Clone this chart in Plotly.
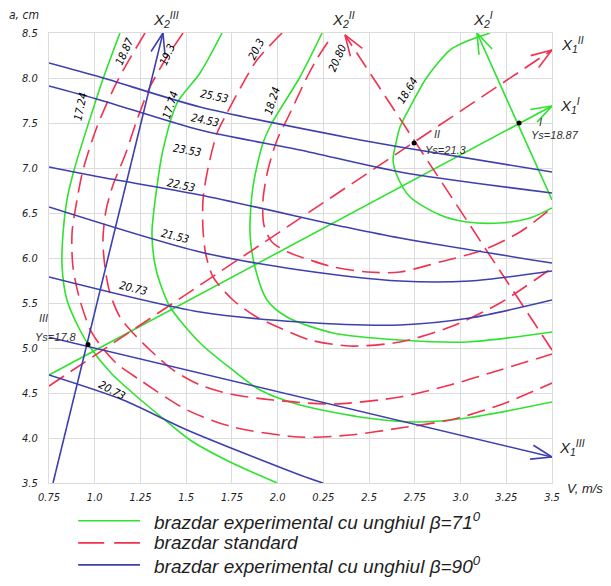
import math
import plotly.graph_objects as go

# ---- isolines (V in m/s, a in cm) ----

# brazdar experimental, beta = 71 (green)
g1724_v = [1.138, 1.045, 1.007, 0.887, 0.848, 0.827, 0.821, 0.848, 0.919, 0.974, 1.09, 1.22, 1.384, 1.521, 1.74, 1.997]
g1724_a = [8.5, 7.989, 7.756, 6.978, 6.644, 6.278, 5.922, 5.533, 5.2, 5.011, 4.72, 4.478, 4.2, 3.978, 3.733, 3.5]
g1774_v = [1.696, 1.576, 1.45, 1.373, 1.34, 1.313, 1.33, 1.357, 1.412, 1.576, 1.74, 1.904, 2.122, 2.489, 2.762, 3.035, 3.5]
g1774_a = [8.5, 8.056, 7.722, 7.2, 6.789, 6.278, 5.922, 5.722, 5.456, 5.056, 4.778, 4.533, 4.367, 4.222, 4.178, 4.222, 4.4]
g1824_v = [2.243, 2.122, 1.969, 1.92, 1.865, 1.849, 1.876, 1.942, 2.051, 2.303, 2.669, 3.035, 3.5]
g1824_a = [8.5, 8.011, 7.5, 7.278, 6.789, 6.278, 5.9, 5.533, 5.344, 5.167, 5.089, 5.067, 5.178]
g1864_v = [3.161, 3.024, 2.942, 2.817, 2.724, 2.669, 2.647, 2.631, 2.658, 2.724, 2.888, 3.035, 3.216, 3.38, 3.5]
g1864_a = [8.5, 8.4, 8.311, 8.011, 7.678, 7.456, 7.278, 7.089, 6.889, 6.678, 6.478, 6.4, 6.389, 6.444, 6.556]
g_x1_v = [0.75, 3.5]
g_x1_a = [4.7, 7.689]
g_x2_v = [3.5, 3.09]
g_x2_a = [6.644, 8.5]

# brazdar standard (red, dashed)
r1887_v = [1.275, 1.127, 1.012, 0.936, 0.903, 0.876, 0.881, 0.919, 0.985, 1.111, 1.248, 1.505, 1.756, 2.122, 2.396, 2.669, 2.942, 3.216, 3.5]
r1887_a = [8.5, 7.978, 7.456, 6.978, 6.644, 6.278, 5.9, 5.533, 5.167, 4.844, 4.644, 4.311, 4.122, 4.011, 4.033, 4.111, 4.2, 4.367, 4.611]
r193_v = [1.483, 1.395, 1.302, 1.231, 1.166, 1.1, 1.062, 1.045, 1.056, 1.083, 1.138, 1.209, 1.302, 1.428, 1.576, 1.74, 1.975, 2.303, 2.669, 2.942, 3.216, 3.5]
r193_a = [8.5, 8.233, 7.9, 7.533, 7.144, 6.811, 6.533, 6.2, 5.9, 5.611, 5.344, 5.167, 4.978, 4.756, 4.589, 4.489, 4.422, 4.378, 4.456, 4.589, 4.756, 4.933]
r203_v = [2.024, 1.887, 1.811, 1.723, 1.669, 1.614, 1.592, 1.592, 1.608, 1.647, 1.756, 1.876, 2.013, 2.177, 2.396, 2.669, 2.942, 3.216, 3.5]
r203_a = [8.5, 8.2, 7.944, 7.611, 7.389, 6.944, 6.644, 6.311, 6.033, 5.789, 5.533, 5.356, 5.222, 5.089, 5.022, 5.067, 5.233, 5.5, 5.889]
r2080_v = [2.275, 2.221, 2.161, 2.068, 1.997, 1.947, 1.92, 1.925, 1.969, 2.068, 2.177, 2.303, 2.489, 2.669, 2.888, 3.123, 3.325, 3.5]
r2080_a = [8.4, 8.233, 8.011, 7.611, 7.311, 6.978, 6.644, 6.367, 6.178, 6.056, 5.978, 5.9, 5.844, 5.844, 5.956, 6.089, 6.289, 6.556]
r_x1_v = [0.75, 3.5]
r_x1_a = [4.578, 8.311]
r_x2_v = [3.5, 2.368]
r_x2_a = [4.978, 8.478]

# brazdar experimental, beta = 90 (blue)
b2553_v = [0.75, 1.029, 1.576, 2.396, 2.669, 3.5]
b2553_a = [8.167, 8.011, 7.678, 7.333, 7.233, 6.956]
b2453_v = [0.75, 1.029, 1.576, 2.122, 2.669, 3.5]
b2453_a = [7.911, 7.756, 7.422, 7.2, 6.956, 6.722]
b2253_v = [0.75, 1.029, 1.576, 2.396, 2.669, 3.5]
b2253_a = [7.011, 6.9, 6.7, 6.333, 6.222, 5.944]
b2153_v = [0.75, 1.576, 2.122, 2.669, 3.051, 3.5]
b2153_a = [6.567, 6.067, 5.867, 5.744, 5.744, 5.856]
b2073_v = [0.75, 1.576, 2.122, 2.669, 3.051, 3.5]
b2073_a = [5.789, 5.4, 5.289, 5.256, 5.333, 5.533]
b2073low_v = [0.75, 1.155, 1.505, 2.122, 2.248]
b2073low_a = [4.7, 4.422, 4.089, 3.589, 3.5]
b_x1_v = [0.75, 3.5]
b_x1_a = [5.12, 3.789]
b_x2_v = [0.772, 1.373]
b_x2_a = [3.5, 8.5]

# optimum points
opt_v = [3.32, 2.746, 0.963]
opt_a = [7.5, 7.278, 5.04]
opt_name = ["I", "II", "III"]
opt_ys = ["Ys=18.87", "Ys=21.3", "Ys=17.8"]

# isoline values
green_vals = ["17.24", "17.74", "18.24", "18.64"]
red_vals = ["18.87", "19.3", "20.3", "20.80"]
blue_vals = ["25.53", "24.53", "23.53", "22.53", "21.53", "20.73", "20.73"]

x_ticks = [0.75, 1.0, 1.25, 1.5, 1.75, 2.0, 2.25, 2.5, 2.75, 3.0, 3.25, 3.5]
x_ticktext = ["0.75", "1.0", "1.25", "1.5", "1.75", "2.0", "0.25", "2.5", "2.75", "3.0", "3.25", "3.5"]
y_ticks = [3.5, 4.0, 4.5, 5.0, 5.5, 6.0, 6.5, 7.0, 7.5, 8.0, 8.5]

GREEN = "#2fe22f"
RED = "#f03250"
BLUE = "#3d40ad"
TXT = "#1e1e1e"
DASH = "18px,8px"

# pixels per unit, only to shape the arrow heads
PX_V = 182.9
PX_A = 90.0


def arrow_head(v, a, length=22, spread=19):
    dx = (v[-1] - v[0]) * PX_V
    dy = (a[-1] - a[0]) * PX_A
    ang = math.atan2(dy, dx) + math.pi
    xs, ys = [], []
    for s in (-1, 1):
        t = ang + s * math.radians(spread)
        xs.append(v[-1] + length * math.cos(t) / PX_V)
        ys.append(a[-1] + length * math.sin(t) / PX_A)
    return [xs[0], v[-1], xs[1]], [ys[0], a[-1], ys[1]]


fig = go.Figure()

curves = [
    (g1724_v, g1724_a, GREEN, "solid"), (g1774_v, g1774_a, GREEN, "solid"),
    (g1824_v, g1824_a, GREEN, "solid"), (g1864_v, g1864_a, GREEN, "solid"),
    (g_x1_v, g_x1_a, GREEN, "solid"), (g_x2_v, g_x2_a, GREEN, "solid"),
    (r1887_v, r1887_a, RED, DASH), (r193_v, r193_a, RED, DASH),
    (r203_v, r203_a, RED, DASH), (r2080_v, r2080_a, RED, DASH),
    (r_x1_v, r_x1_a, RED, DASH), (r_x2_v, r_x2_a, RED, DASH),
    (b2553_v, b2553_a, BLUE, "solid"), (b2453_v, b2453_a, BLUE, "solid"),
    (b2253_v, b2253_a, BLUE, "solid"), (b2153_v, b2153_a, BLUE, "solid"),
    (b2073_v, b2073_a, BLUE, "solid"), (b2073low_v, b2073low_a, BLUE, "solid"),
    (b_x1_v, b_x1_a, BLUE, "solid"), (b_x2_v, b_x2_a, BLUE, "solid"),
]
for v, a, col, dash in curves:
    fig.add_trace(go.Scatter(
        x=v, y=a, mode="lines", showlegend=False, hoverinfo="skip",
        line=dict(color=col, width=1.6, dash=dash, shape="spline", smoothing=0.8)
    ))

# arrow heads on the axes of the response surfaces
for v, a, col in [(g_x1_v, g_x1_a, GREEN), (g_x2_v, g_x2_a, GREEN),
                  (r_x1_v, r_x1_a, RED), (r_x2_v, r_x2_a, RED),
                  (b_x1_v, b_x1_a, BLUE), (b_x2_v, b_x2_a, BLUE)]:
    hx, hy = arrow_head(v, a)
    fig.add_trace(go.Scatter(x=hx, y=hy, mode="lines", showlegend=False,
                             hoverinfo="skip", cliponaxis=False,
                             line=dict(color=col, width=1.6)))

fig.add_trace(go.Scatter(x=opt_v, y=opt_a, mode="markers", showlegend=False,
                         hoverinfo="skip", marker=dict(color="black", size=5)))

label_font = dict(family="Liberation Sans Narrow, DejaVu Sans Condensed, sans-serif",
                  size=11, color="black", style="italic")
ann = []

# isoline labels: value, position, angle
green_pos = [(0.925, 7.68, -78), (1.412, 7.70, -72), (1.969, 7.744, -72), (2.713, 7.856, -58)]
red_pos = [(1.166, 8.289, -66), (1.40, 8.256, -66), (1.882, 8.322, -62), (2.325, 8.222, -66)]
blue_pos = [(1.652, 7.789, 12), (1.603, 7.533, 12), (1.505, 7.20, 10), (1.472, 6.811, 12),
            (1.439, 6.244, 14), (1.209, 5.656, 14), (1.094, 4.533, 28)]
for vals, pos in [(green_vals, green_pos), (red_vals, red_pos), (blue_vals, blue_pos)]:
    for t, (x, y, ang) in zip(vals, pos):
        ann.append(dict(x=x, y=y, text=t, showarrow=False, textangle=ang, font=label_font))


def paper_text(txt, x, y, font, xanchor="center"):
    return dict(x=x, y=y, xref="paper", yref="paper", text=txt, showarrow=False,
                xanchor=xanchor, yanchor="middle", font=font)


# labels of the optimum points
pt_font = dict(family="Liberation Sans, Arial, sans-serif", size=11, color="#333333", style="italic")
name_pos = [(0.978, 0.802), (0.771, 0.775), (-0.01, 0.367)]
ys_pos = [(1.006, 0.773), (0.79, 0.74), (0.013, 0.325)]
for n, ys, (nx, ny), (yx, yy) in zip(opt_name, opt_ys, name_pos, ys_pos):
    ann.append(paper_text(n, nx, ny, pt_font))
    ann.append(paper_text(ys, yx, yy, pt_font))

ax_font = dict(family="Liberation Sans, Arial, sans-serif", size=15, color=TXT, style="italic")
for txt, x, y in [("X<sub>2</sub><sup>III</sup>", 0.232, 1.03), ("X<sub>2</sub><sup>II</sup>", 0.586, 1.03),
                  ("X<sub>2</sub><sup>I</sup>", 0.862, 1.03), ("X<sub>1</sub><sup>II</sup>", 1.04, 0.975),
                  ("X<sub>1</sub><sup>I</sup>", 1.035, 0.838), ("X<sub>1</sub><sup>III</sup>", 1.04, 0.078)]:
    ann.append(paper_text(txt, x, y, ax_font))

ann.append(paper_text("a, cm", -0.05, 1.04,
                      dict(family="Liberation Sans Narrow, DejaVu Sans Condensed, sans-serif",
                           size=12, color=TXT, style="italic")))
ann.append(paper_text("V, m/s", 1.066, -0.013,
                      dict(family="Liberation Sans, Arial, sans-serif", size=13, color=TXT, style="italic")))

# legend drawn below the plot
legend_rows = [("brazdar experimental cu unghiul β=71<sup>0</sup>", GREEN, "solid", -0.084),
               ("brazdar standard", RED, "26px,10px", -0.133),
               ("brazdar experimental cu unghiul β=90<sup>0</sup>", BLUE, "solid", -0.182)]
shapes = []
leg_font = dict(family="Liberation Sans, Arial, sans-serif", size=19, color=TXT, style="italic")
for txt, col, dash, y in legend_rows:
    shapes.append(dict(type="line", xref="paper", yref="paper", x0=0.058, x1=0.181, y0=y, y1=y,
                       line=dict(color=col, width=1.6, dash=dash)))
    ann.append(paper_text(txt, 0.205, y, leg_font, xanchor="left"))

tick_font = dict(family="Liberation Sans Narrow, DejaVu Sans Condensed, sans-serif",
                 size=11, color=TXT, style="italic")
fig.update_layout(
    width=611, height=586,
    margin=dict(l=49, r=59, t=33, b=103),
    paper_bgcolor="white", plot_bgcolor="white",
    xaxis=dict(range=[0.75, 3.5], tickvals=x_ticks, ticktext=x_ticktext, tickfont=tick_font,
               showgrid=True, gridcolor="#dcdcdc", gridwidth=1, zeroline=False,
               showline=True, linecolor="#dcdcdc", mirror=True, ticks="", ticklabelstandoff=4),
    yaxis=dict(range=[3.5, 8.5], tickvals=y_ticks, tickformat=".1f", tickfont=tick_font,
               showgrid=True, gridcolor="#dcdcdc", gridwidth=1, zeroline=False,
               showline=True, linecolor="#dcdcdc", mirror=True, ticks="", ticklabelstandoff=8),
    annotations=ann,
    shapes=shapes,
)

fig.write_html("out.html", config={"displayModeBar": False},
               post_script="document.body.style.margin='0';")
